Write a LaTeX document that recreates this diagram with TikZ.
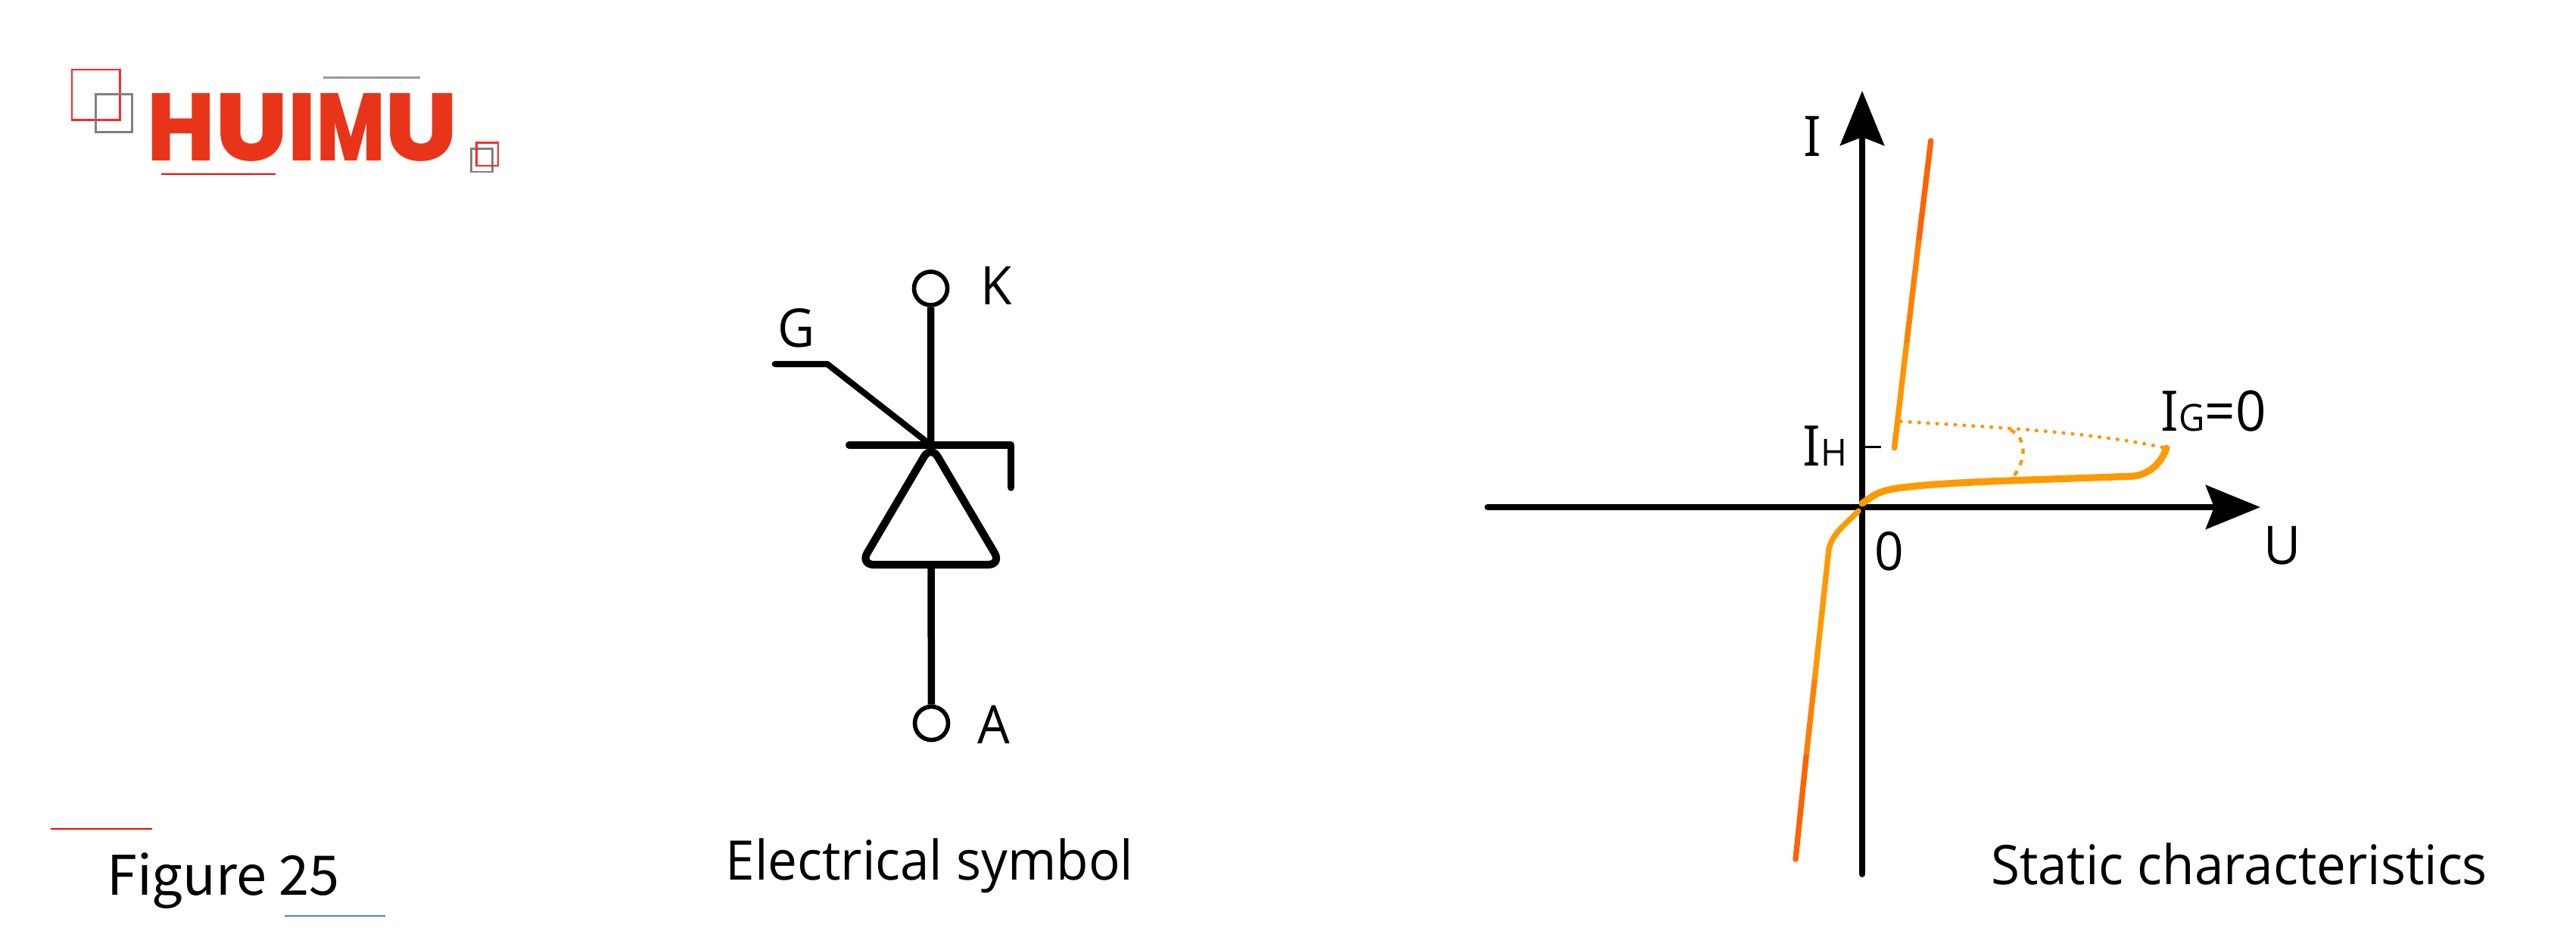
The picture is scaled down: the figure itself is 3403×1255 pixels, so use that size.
\documentclass[tikz,border=0pt]{standalone}
\usepackage{xcolor}
\usepackage{fontspec}
\setmainfont{Open Sans}[FakeStretch=0.96]
\newfontfamily\serifi{Open Sans}[FakeStretch=0.96, RawFeature={+salt;+ss01;+ss02}]
\newfontfamily\logofont{Poppins}[UprightFont=* ExtraBold]
\newfontfamily\capfont{Noto Sans CJK SC}
\usetikzlibrary{arrows.meta}
\definecolor{logored}{HTML}{E8351A}
\definecolor{curveorange}{HTML}{FF9900}
\definecolor{curvemid}{HTML}{FF7F00}
\definecolor{curvedark}{HTML}{FF6200}
\definecolor{lineblue}{HTML}{4A7FD9}
\tikzset{
    label/.style={inner sep=0pt, font=\fontsize{20}{24}\selectfont},
    ilabelfont/.style={inner sep=0pt, anchor=base, font=\serifi\fontsize{21}{24}\selectfont},
    caption/.style={inner sep=0pt, anchor=base, font=\fontsize{20.5}{24}\selectfont},
    wire/.style={line width=2.7pt, line join=round, line cap=round},
    terminal/.style={circle, draw, line width=1.6pt, minimum size=0.44cm, inner sep=0pt},
    axis/.style={line width=2.2pt, line cap=round, -{Stealth[length=0.72cm, width=0.58cm, inset=0.11cm]}},
    curve/.style={line width=2.1pt, line cap=round},
    redframe/.style={draw=red!85, line width=0.75pt},
    grayframe/.style={draw=gray, line width=0.75pt}
}
\begin{document}
\begin{tikzpicture}[x=0.01cm, y=-0.01cm]
    \useasboundingbox (0,0) rectangle (3403,1255);

    % Logo
    \node (logo) [inner sep=0pt, text=logored, anchor=north west] at (194,123)
        {\resizebox{4.1cm}{0.89cm}{\logofont H\scalebox{1.12}[1]{U}I\scalebox{0.8}[1]{M}\scalebox{1.12}[1]{U}}};
    \node (bigred) [rectangle, redframe, anchor=north west, minimum width=0.635cm, minimum height=0.665cm, inner sep=0pt] at (93.5,90.7) {};
    \node (biggray) [rectangle, grayframe, anchor=north west, minimum width=0.48cm, minimum height=0.50cm, inner sep=0pt] at (125,123) {};
    \node (smallgray) [rectangle, grayframe, anchor=north west, minimum width=0.28cm, minimum height=0.307cm, inner sep=0pt] at (621,195) {};
    \node (smallred) [rectangle, redframe, anchor=north west, minimum width=0.285cm, minimum height=0.307cm, inner sep=0pt] at (628,187) {};
    \coordinate (grayleft) at (427,102.7);
    \coordinate (grayright) at (555,102.7);
    \coordinate (redleft) at (212.5,230);
    \coordinate (redright) at (364,230);
    \draw[gray!80, line width=0.7pt] (grayleft) -- (grayright);
    \draw[red, line width=0.7pt] (redleft) -- (redright);

    % Electrical symbol
    \node (kterm) [terminal] at (1229.5,381) {};
    \node (aterm) [terminal] at (1230.5,955.5) {};
    \coordinate (apex) at (1229.7,588);
    \coordinate (gateend) at (1023.7,481);
    \coordinate (gatebend) at (1093,481);
    \coordinate (barleft) at (1121.7,588);
    \coordinate (barright) at (1335.7,588);
    \coordinate (barend) at (1335.7,644);
    \coordinate (triright) at (1323,746);
    \coordinate (trileft) at (1136.5,746);
    \coordinate (tribase) at (1230,746);
    \draw[wire, line cap=butt] (kterm) -- (apex);
    \draw[wire, line cap=butt] (tribase) -- (aterm);
    \draw[wire, line width=2.3pt] (gateend) -- (gatebend) -- (apex);
    \draw[wire] (barleft) -- (barright) -- (barend);
    \draw[wire, line width=2.9pt, rounded corners=0.18cm] (apex) -- (triright) -- (trileft) -- cycle;
    \node (klabel) [label] at (1316,377) {K};
    \node (alabel) [label] at (1313,957) {A};
    \node (glabel) [label] at (1052,433) {G};

    % Static characteristics
    \coordinate (uleft) at (1965,670);
    \coordinate (uright) at (2986,670);
    \coordinate (ibottom) at (2460,1155);
    \coordinate (itop) at (2460,120);
    \draw[axis] (uleft) -- (uright);
    \draw[axis] (ibottom) -- (itop);
    \coordinate (ihtick) at (2463,590.6);
    \coordinate (ihtickend) at (2485,590.6);
    \draw[line width=0.9pt] (ihtick) -- (ihtickend);

    % On state
    \coordinate (ontop) at (2550.7,186);
    \coordinate (onupper) at (2534.5,320);
    \coordinate (onlower) at (2518.5,455);
    \coordinate (onend) at (2502.6,591.7);
    \draw[curve, curvedark] (ontop) -- (onupper);
    \draw[curve, curvemid] (onupper) -- (onlower);
    \draw[curve, curveorange!80!curvemid] (onlower) -- (onend);

    % Forward blocking
    \coordinate (origin) at (2460,665);
    \coordinate (igzero) at (2862,592);
    \coordinate (latch) at (2511,556.7);
    \coordinate (dotmid) at (2656,568);
    \coordinate (dashend) at (2656,635);
    \draw[curveorange, line width=2.6pt, line cap=round] (origin) .. controls (2478,652) and (2482,650) .. (2500,646)
        .. controls (2560,636) and (2700,634) .. (2819,629) .. controls (2840,626) and (2855,612) .. (igzero);
    \draw[curveorange!80!curvemid, line width=1.3pt, line cap=round, dash pattern=on 0.2pt off 3.2pt] (latch) .. controls (2640,565) and (2760,570) .. (igzero);
    \draw[curveorange!80!curvemid, line width=1.2pt, dash pattern=on 2pt off 2.4pt] (dotmid) .. controls (2676,578) and (2680,605) .. (dashend);

    % Reverse
    \coordinate (offstart) at (2455,675);
    \coordinate (offknee) at (2416,725);
    \coordinate (offmid) at (2397,900);
    \coordinate (offlow) at (2386,1000);
    \coordinate (offend) at (2372,1135);
    \draw[curve, curveorange] (offstart) .. controls (2436,695) and (2422,703) .. (offknee) -- (offmid);
    \draw[curve, curvemid] (offmid) -- (offlow);
    \draw[curve, curvedark] (offlow) -- (offend);

    \node (ilabel) [ilabelfont] at (2394,207) {I};
    \node (ulabel) [label] at (3015,721) {U};
    \node (zerolabel) [label] at (2496,728) {0};
    \node (ihlabel) [ilabelfont] at (2411,615)
        {I{\fontsize{14}{15}\selectfont H}};
    \node (iglabel) [ilabelfont] at (2924,569)
        {I{\fontsize{14}{15}\selectfont G}=0};

    % Captions
    \node (figcap) [caption, font=\capfont\fontsize{20.5}{24}\selectfont] at (295,1182.7) {Figure 25};
    \node (symcap) [caption] at (1228,1162.7) {Electrical symbol};
    \node (statcap) [caption] at (2958,1168) {Static characteristics};
    \coordinate (figredleft) at (67,1095);
    \coordinate (figredright) at (201,1095);
    \coordinate (figblueleft) at (376,1210);
    \coordinate (figblueright) at (509,1210);
    \draw[red, line width=0.7pt] (figredleft) -- (figredright);
    \draw[lineblue, line width=0.7pt] (figblueleft) -- (figblueright);
\end{tikzpicture}
\end{document}
